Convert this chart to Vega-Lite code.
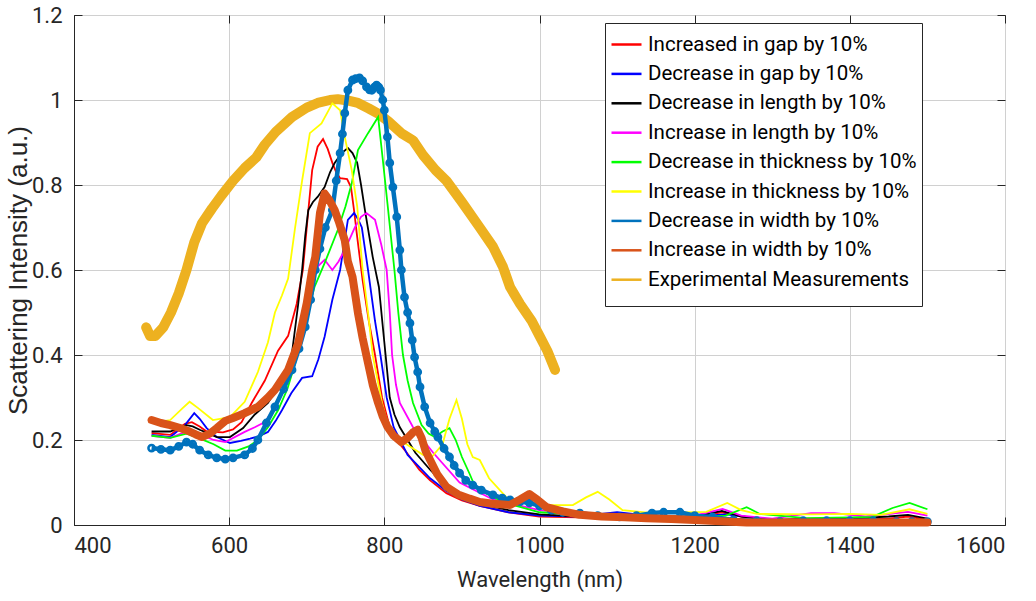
{
  "$schema": "https://vega.github.io/schema/vega-lite/v6.json",
  "width": 931,
  "height": 510,
  "autosize": "none",
  "padding": {"left": 74, "top": 15, "right": 31, "bottom": 76},
  "background": "white",
  "config": {
    "view": {"stroke": "#262626", "strokeWidth": 1},
    "font": "Roboto",
    "axis": {
      "gridColor": "#d0d0d0", "gridWidth": 1, "domainColor": "#262626", "tickColor": "#262626",
      "labelColor": "#262626", "titleColor": "#262626", "labelFont": "Roboto",
      "titleFont": "Roboto", "labelFontSize": 22, "titleFontSize": 22, "titleFontWeight": "normal"
    }
  },
  "data": {"values": [
    {"s":"Experimental Measurements","x":493,"y":0.465},{"s":"Experimental Measurements","x":498,"y":0.445},{"s":"Experimental Measurements","x":505,"y":0.445},{"s":"Experimental Measurements","x":515,"y":0.465},{"s":"Experimental Measurements","x":525,"y":0.5},{"s":"Experimental Measurements","x":535,"y":0.545},{"s":"Experimental Measurements","x":545,"y":0.6},{"s":"Experimental Measurements","x":555,"y":0.665},{"s":"Experimental Measurements","x":565,"y":0.71},{"s":"Experimental Measurements","x":578,"y":0.745},{"s":"Experimental Measurements","x":590,"y":0.775},{"s":"Experimental Measurements","x":605,"y":0.81},{"s":"Experimental Measurements","x":620,"y":0.84},{"s":"Experimental Measurements","x":635,"y":0.865},{"s":"Experimental Measurements","x":646,"y":0.895},{"s":"Experimental Measurements","x":660,"y":0.925},{"s":"Experimental Measurements","x":681,"y":0.96},{"s":"Experimental Measurements","x":700,"y":0.982},{"s":"Experimental Measurements","x":714,"y":0.993},{"s":"Experimental Measurements","x":730,"y":1.0},{"s":"Experimental Measurements","x":740,"y":1.002},{"s":"Experimental Measurements","x":755,"y":0.998},{"s":"Experimental Measurements","x":766,"y":0.993},{"s":"Experimental Measurements","x":780,"y":0.98},{"s":"Experimental Measurements","x":792,"y":0.968},{"s":"Experimental Measurements","x":805,"y":0.95},{"s":"Experimental Measurements","x":822,"y":0.922},{"s":"Experimental Measurements","x":837,"y":0.905},{"s":"Experimental Measurements","x":850,"y":0.87},{"s":"Experimental Measurements","x":866,"y":0.835},{"s":"Experimental Measurements","x":880,"y":0.81},{"s":"Experimental Measurements","x":900,"y":0.76},{"s":"Experimental Measurements","x":923,"y":0.7},{"s":"Experimental Measurements","x":940,"y":0.655},{"s":"Experimental Measurements","x":953,"y":0.607},{"s":"Experimental Measurements","x":962,"y":0.56},{"s":"Experimental Measurements","x":975,"y":0.52},{"s":"Experimental Measurements","x":990,"y":0.48},{"s":"Experimental Measurements","x":1000,"y":0.445},{"s":"Experimental Measurements","x":1010,"y":0.41},{"s":"Experimental Measurements","x":1020,"y":0.365},

    {"s":"Increased in gap by 10%","x":500,"y":0.216},{"s":"Increased in gap by 10%","x":524,"y":0.212},{"s":"Increased in gap by 10%","x":543,"y":0.238},{"s":"Increased in gap by 10%","x":552,"y":0.242},{"s":"Increased in gap by 10%","x":562,"y":0.232},{"s":"Increased in gap by 10%","x":571,"y":0.22},{"s":"Increased in gap by 10%","x":592,"y":0.218},{"s":"Increased in gap by 10%","x":605,"y":0.225},{"s":"Increased in gap by 10%","x":616,"y":0.242},{"s":"Increased in gap by 10%","x":629,"y":0.287},{"s":"Increased in gap by 10%","x":646,"y":0.34},{"s":"Increased in gap by 10%","x":663,"y":0.41},{"s":"Increased in gap by 10%","x":676,"y":0.445},{"s":"Increased in gap by 10%","x":687,"y":0.52},{"s":"Increased in gap by 10%","x":695,"y":0.6},{"s":"Increased in gap by 10%","x":701,"y":0.72},{"s":"Increased in gap by 10%","x":707,"y":0.835},{"s":"Increased in gap by 10%","x":714,"y":0.89},{"s":"Increased in gap by 10%","x":721,"y":0.908},{"s":"Increased in gap by 10%","x":727,"y":0.885},{"s":"Increased in gap by 10%","x":733,"y":0.852},{"s":"Increased in gap by 10%","x":738,"y":0.83},{"s":"Increased in gap by 10%","x":743,"y":0.816},{"s":"Increased in gap by 10%","x":752,"y":0.814},{"s":"Increased in gap by 10%","x":757,"y":0.795},{"s":"Increased in gap by 10%","x":761,"y":0.74},{"s":"Increased in gap by 10%","x":765,"y":0.678},{"s":"Increased in gap by 10%","x":772,"y":0.576},{"s":"Increased in gap by 10%","x":780,"y":0.48},{"s":"Increased in gap by 10%","x":788,"y":0.4},{"s":"Increased in gap by 10%","x":797,"y":0.3},{"s":"Increased in gap by 10%","x":807,"y":0.23},{"s":"Increased in gap by 10%","x":818,"y":0.195},{"s":"Increased in gap by 10%","x":829,"y":0.17},{"s":"Increased in gap by 10%","x":845,"y":0.13},{"s":"Increased in gap by 10%","x":859,"y":0.105},{"s":"Increased in gap by 10%","x":880,"y":0.075},{"s":"Increased in gap by 10%","x":900,"y":0.058},{"s":"Increased in gap by 10%","x":923,"y":0.045},{"s":"Increased in gap by 10%","x":960,"y":0.03},{"s":"Increased in gap by 10%","x":1000,"y":0.02},{"s":"Increased in gap by 10%","x":1050,"y":0.018},{"s":"Increased in gap by 10%","x":1100,"y":0.025},{"s":"Increased in gap by 10%","x":1150,"y":0.02},{"s":"Increased in gap by 10%","x":1200,"y":0.02},{"s":"Increased in gap by 10%","x":1235,"y":0.03},{"s":"Increased in gap by 10%","x":1260,"y":0.02},{"s":"Increased in gap by 10%","x":1300,"y":0.012},{"s":"Increased in gap by 10%","x":1350,"y":0.015},{"s":"Increased in gap by 10%","x":1400,"y":0.015},{"s":"Increased in gap by 10%","x":1450,"y":0.015},{"s":"Increased in gap by 10%","x":1475,"y":0.02},{"s":"Increased in gap by 10%","x":1500,"y":0.012},

    {"s":"Decrease in gap by 10%","x":500,"y":0.212},{"s":"Decrease in gap by 10%","x":524,"y":0.207},{"s":"Decrease in gap by 10%","x":543,"y":0.235},{"s":"Decrease in gap by 10%","x":555,"y":0.263},{"s":"Decrease in gap by 10%","x":562,"y":0.25},{"s":"Decrease in gap by 10%","x":571,"y":0.228},{"s":"Decrease in gap by 10%","x":584,"y":0.207},{"s":"Decrease in gap by 10%","x":601,"y":0.193},{"s":"Decrease in gap by 10%","x":615,"y":0.198},{"s":"Decrease in gap by 10%","x":627,"y":0.203},{"s":"Decrease in gap by 10%","x":640,"y":0.21},{"s":"Decrease in gap by 10%","x":650,"y":0.219},{"s":"Decrease in gap by 10%","x":660,"y":0.245},{"s":"Decrease in gap by 10%","x":668,"y":0.27},{"s":"Decrease in gap by 10%","x":680,"y":0.31},{"s":"Decrease in gap by 10%","x":694,"y":0.346},{"s":"Decrease in gap by 10%","x":707,"y":0.35},{"s":"Decrease in gap by 10%","x":715,"y":0.39},{"s":"Decrease in gap by 10%","x":723,"y":0.443},{"s":"Decrease in gap by 10%","x":733,"y":0.53},{"s":"Decrease in gap by 10%","x":743,"y":0.6},{"s":"Decrease in gap by 10%","x":753,"y":0.718},{"s":"Decrease in gap by 10%","x":761,"y":0.734},{"s":"Decrease in gap by 10%","x":766,"y":0.72},{"s":"Decrease in gap by 10%","x":771,"y":0.7},{"s":"Decrease in gap by 10%","x":779,"y":0.6},{"s":"Decrease in gap by 10%","x":788,"y":0.48},{"s":"Decrease in gap by 10%","x":795,"y":0.4},{"s":"Decrease in gap by 10%","x":803,"y":0.3},{"s":"Decrease in gap by 10%","x":812,"y":0.23},{"s":"Decrease in gap by 10%","x":830,"y":0.165},{"s":"Decrease in gap by 10%","x":859,"y":0.11},{"s":"Decrease in gap by 10%","x":880,"y":0.08},{"s":"Decrease in gap by 10%","x":900,"y":0.06},{"s":"Decrease in gap by 10%","x":923,"y":0.045},{"s":"Decrease in gap by 10%","x":960,"y":0.03},{"s":"Decrease in gap by 10%","x":1000,"y":0.022},{"s":"Decrease in gap by 10%","x":1050,"y":0.02},{"s":"Decrease in gap by 10%","x":1100,"y":0.03},{"s":"Decrease in gap by 10%","x":1150,"y":0.02},{"s":"Decrease in gap by 10%","x":1200,"y":0.02},{"s":"Decrease in gap by 10%","x":1240,"y":0.025},{"s":"Decrease in gap by 10%","x":1300,"y":0.012},{"s":"Decrease in gap by 10%","x":1400,"y":0.012},{"s":"Decrease in gap by 10%","x":1450,"y":0.012},{"s":"Decrease in gap by 10%","x":1500,"y":0.01},

    {"s":"Decrease in length by 10%","x":500,"y":0.22},{"s":"Decrease in length by 10%","x":524,"y":0.22},{"s":"Decrease in length by 10%","x":545,"y":0.235},{"s":"Decrease in length by 10%","x":553,"y":0.232},{"s":"Decrease in length by 10%","x":562,"y":0.224},{"s":"Decrease in length by 10%","x":584,"y":0.207},{"s":"Decrease in length by 10%","x":601,"y":0.207},{"s":"Decrease in length by 10%","x":618,"y":0.228},{"s":"Decrease in length by 10%","x":633,"y":0.26},{"s":"Decrease in length by 10%","x":650,"y":0.287},{"s":"Decrease in length by 10%","x":668,"y":0.34},{"s":"Decrease in length by 10%","x":681,"y":0.405},{"s":"Decrease in length by 10%","x":689,"y":0.52},{"s":"Decrease in length by 10%","x":694,"y":0.6},{"s":"Decrease in length by 10%","x":698,"y":0.68},{"s":"Decrease in length by 10%","x":702,"y":0.741},{"s":"Decrease in length by 10%","x":708,"y":0.76},{"s":"Decrease in length by 10%","x":714,"y":0.772},{"s":"Decrease in length by 10%","x":723,"y":0.795},{"s":"Decrease in length by 10%","x":730,"y":0.83},{"s":"Decrease in length by 10%","x":736,"y":0.852},{"s":"Decrease in length by 10%","x":745,"y":0.875},{"s":"Decrease in length by 10%","x":753,"y":0.887},{"s":"Decrease in length by 10%","x":759,"y":0.875},{"s":"Decrease in length by 10%","x":765,"y":0.852},{"s":"Decrease in length by 10%","x":770,"y":0.8},{"s":"Decrease in length by 10%","x":775,"y":0.741},{"s":"Decrease in length by 10%","x":785,"y":0.631},{"s":"Decrease in length by 10%","x":793,"y":0.56},{"s":"Decrease in length by 10%","x":800,"y":0.43},{"s":"Decrease in length by 10%","x":807,"y":0.3},{"s":"Decrease in length by 10%","x":813,"y":0.26},{"s":"Decrease in length by 10%","x":820,"y":0.23},{"s":"Decrease in length by 10%","x":840,"y":0.17},{"s":"Decrease in length by 10%","x":859,"y":0.13},{"s":"Decrease in length by 10%","x":880,"y":0.09},{"s":"Decrease in length by 10%","x":900,"y":0.065},{"s":"Decrease in length by 10%","x":923,"y":0.05},{"s":"Decrease in length by 10%","x":960,"y":0.035},{"s":"Decrease in length by 10%","x":1000,"y":0.025},{"s":"Decrease in length by 10%","x":1050,"y":0.02},{"s":"Decrease in length by 10%","x":1100,"y":0.02},{"s":"Decrease in length by 10%","x":1150,"y":0.02},{"s":"Decrease in length by 10%","x":1200,"y":0.02},{"s":"Decrease in length by 10%","x":1235,"y":0.033},{"s":"Decrease in length by 10%","x":1260,"y":0.02},{"s":"Decrease in length by 10%","x":1300,"y":0.012},{"s":"Decrease in length by 10%","x":1400,"y":0.015},{"s":"Decrease in length by 10%","x":1450,"y":0.02},{"s":"Decrease in length by 10%","x":1475,"y":0.024},{"s":"Decrease in length by 10%","x":1500,"y":0.015},

    {"s":"Increase in length by 10%","x":500,"y":0.21},{"s":"Increase in length by 10%","x":524,"y":0.205},{"s":"Increase in length by 10%","x":545,"y":0.22},{"s":"Increase in length by 10%","x":560,"y":0.215},{"s":"Increase in length by 10%","x":580,"y":0.2},{"s":"Increase in length by 10%","x":595,"y":0.195},{"s":"Increase in length by 10%","x":620,"y":0.219},{"s":"Increase in length by 10%","x":633,"y":0.23},{"s":"Increase in length by 10%","x":646,"y":0.242},{"s":"Increase in length by 10%","x":660,"y":0.28},{"s":"Increase in length by 10%","x":680,"y":0.36},{"s":"Increase in length by 10%","x":695,"y":0.48},{"s":"Increase in length by 10%","x":705,"y":0.56},{"s":"Increase in length by 10%","x":715,"y":0.61},{"s":"Increase in length by 10%","x":723,"y":0.624},{"s":"Increase in length by 10%","x":733,"y":0.6},{"s":"Increase in length by 10%","x":741,"y":0.62},{"s":"Increase in length by 10%","x":749,"y":0.647},{"s":"Increase in length by 10%","x":762,"y":0.7},{"s":"Increase in length by 10%","x":770,"y":0.725},{"s":"Increase in length by 10%","x":777,"y":0.734},{"s":"Increase in length by 10%","x":788,"y":0.718},{"s":"Increase in length by 10%","x":796,"y":0.66},{"s":"Increase in length by 10%","x":803,"y":0.6},{"s":"Increase in length by 10%","x":807,"y":0.5},{"s":"Increase in length by 10%","x":810,"y":0.4},{"s":"Increase in length by 10%","x":815,"y":0.33},{"s":"Increase in length by 10%","x":820,"y":0.287},{"s":"Increase in length by 10%","x":837,"y":0.23},{"s":"Increase in length by 10%","x":863,"y":0.17},{"s":"Increase in length by 10%","x":897,"y":0.1},{"s":"Increase in length by 10%","x":940,"y":0.06},{"s":"Increase in length by 10%","x":1000,"y":0.035},{"s":"Increase in length by 10%","x":1050,"y":0.025},{"s":"Increase in length by 10%","x":1100,"y":0.025},{"s":"Increase in length by 10%","x":1150,"y":0.02},{"s":"Increase in length by 10%","x":1200,"y":0.022},{"s":"Increase in length by 10%","x":1236,"y":0.038},{"s":"Increase in length by 10%","x":1260,"y":0.022},{"s":"Increase in length by 10%","x":1300,"y":0.015},{"s":"Increase in length by 10%","x":1350,"y":0.028},{"s":"Increase in length by 10%","x":1380,"y":0.028},{"s":"Increase in length by 10%","x":1420,"y":0.02},{"s":"Increase in length by 10%","x":1475,"y":0.031},{"s":"Increase in length by 10%","x":1500,"y":0.022},

    {"s":"Decrease in thickness by 10%","x":500,"y":0.21},{"s":"Decrease in thickness by 10%","x":524,"y":0.205},{"s":"Decrease in thickness by 10%","x":545,"y":0.215},{"s":"Decrease in thickness by 10%","x":560,"y":0.205},{"s":"Decrease in thickness by 10%","x":580,"y":0.19},{"s":"Decrease in thickness by 10%","x":595,"y":0.175},{"s":"Decrease in thickness by 10%","x":610,"y":0.175},{"s":"Decrease in thickness by 10%","x":625,"y":0.185},{"s":"Decrease in thickness by 10%","x":637,"y":0.2},{"s":"Decrease in thickness by 10%","x":650,"y":0.23},{"s":"Decrease in thickness by 10%","x":663,"y":0.27},{"s":"Decrease in thickness by 10%","x":675,"y":0.32},{"s":"Decrease in thickness by 10%","x":685,"y":0.38},{"s":"Decrease in thickness by 10%","x":698,"y":0.482},{"s":"Decrease in thickness by 10%","x":710,"y":0.56},{"s":"Decrease in thickness by 10%","x":723,"y":0.616},{"s":"Decrease in thickness by 10%","x":740,"y":0.694},{"s":"Decrease in thickness by 10%","x":750,"y":0.75},{"s":"Decrease in thickness by 10%","x":758,"y":0.804},{"s":"Decrease in thickness by 10%","x":766,"y":0.882},{"s":"Decrease in thickness by 10%","x":779,"y":0.922},{"s":"Decrease in thickness by 10%","x":792,"y":0.96},{"s":"Decrease in thickness by 10%","x":798,"y":0.86},{"s":"Decrease in thickness by 10%","x":804,"y":0.757},{"s":"Decrease in thickness by 10%","x":813,"y":0.6},{"s":"Decrease in thickness by 10%","x":818,"y":0.5},{"s":"Decrease in thickness by 10%","x":824,"y":0.4},{"s":"Decrease in thickness by 10%","x":830,"y":0.34},{"s":"Decrease in thickness by 10%","x":837,"y":0.287},{"s":"Decrease in thickness by 10%","x":848,"y":0.235},{"s":"Decrease in thickness by 10%","x":857,"y":0.215},{"s":"Decrease in thickness by 10%","x":865,"y":0.207},{"s":"Decrease in thickness by 10%","x":875,"y":0.22},{"s":"Decrease in thickness by 10%","x":884,"y":0.228},{"s":"Decrease in thickness by 10%","x":892,"y":0.2},{"s":"Decrease in thickness by 10%","x":900,"y":0.16},{"s":"Decrease in thickness by 10%","x":910,"y":0.12},{"s":"Decrease in thickness by 10%","x":917,"y":0.09},{"s":"Decrease in thickness by 10%","x":940,"y":0.065},{"s":"Decrease in thickness by 10%","x":970,"y":0.045},{"s":"Decrease in thickness by 10%","x":1000,"y":0.03},{"s":"Decrease in thickness by 10%","x":1050,"y":0.025},{"s":"Decrease in thickness by 10%","x":1100,"y":0.025},{"s":"Decrease in thickness by 10%","x":1150,"y":0.02},{"s":"Decrease in thickness by 10%","x":1200,"y":0.02},{"s":"Decrease in thickness by 10%","x":1240,"y":0.022},{"s":"Decrease in thickness by 10%","x":1267,"y":0.042},{"s":"Decrease in thickness by 10%","x":1284,"y":0.026},{"s":"Decrease in thickness by 10%","x":1344,"y":0.016},{"s":"Decrease in thickness by 10%","x":1400,"y":0.018},{"s":"Decrease in thickness by 10%","x":1429,"y":0.019},{"s":"Decrease in thickness by 10%","x":1455,"y":0.04},{"s":"Decrease in thickness by 10%","x":1477,"y":0.052},{"s":"Decrease in thickness by 10%","x":1500,"y":0.037},

    {"s":"Increase in thickness by 10%","x":500,"y":0.24},{"s":"Increase in thickness by 10%","x":524,"y":0.247},{"s":"Increase in thickness by 10%","x":540,"y":0.275},{"s":"Increase in thickness by 10%","x":549,"y":0.29},{"s":"Increase in thickness by 10%","x":560,"y":0.275},{"s":"Increase in thickness by 10%","x":579,"y":0.247},{"s":"Increase in thickness by 10%","x":601,"y":0.254},{"s":"Increase in thickness by 10%","x":620,"y":0.29},{"s":"Increase in thickness by 10%","x":637,"y":0.36},{"s":"Increase in thickness by 10%","x":650,"y":0.43},{"s":"Increase in thickness by 10%","x":659,"y":0.5},{"s":"Increase in thickness by 10%","x":668,"y":0.54},{"s":"Increase in thickness by 10%","x":676,"y":0.58},{"s":"Increase in thickness by 10%","x":685,"y":0.7},{"s":"Increase in thickness by 10%","x":694,"y":0.81},{"s":"Increase in thickness by 10%","x":704,"y":0.922},{"s":"Increase in thickness by 10%","x":719,"y":0.945},{"s":"Increase in thickness by 10%","x":733,"y":0.992},{"s":"Increase in thickness by 10%","x":743,"y":0.976},{"s":"Increase in thickness by 10%","x":749,"y":0.913},{"s":"Increase in thickness by 10%","x":758,"y":0.835},{"s":"Increase in thickness by 10%","x":765,"y":0.75},{"s":"Increase in thickness by 10%","x":772,"y":0.6},{"s":"Increase in thickness by 10%","x":779,"y":0.5},{"s":"Increase in thickness by 10%","x":785,"y":0.4},{"s":"Increase in thickness by 10%","x":797,"y":0.287},{"s":"Increase in thickness by 10%","x":807,"y":0.22},{"s":"Increase in thickness by 10%","x":820,"y":0.2},{"s":"Increase in thickness by 10%","x":837,"y":0.18},{"s":"Increase in thickness by 10%","x":850,"y":0.165},{"s":"Increase in thickness by 10%","x":861,"y":0.16},{"s":"Increase in thickness by 10%","x":875,"y":0.19},{"s":"Increase in thickness by 10%","x":884,"y":0.25},{"s":"Increase in thickness by 10%","x":893,"y":0.294},{"s":"Increase in thickness by 10%","x":900,"y":0.25},{"s":"Increase in thickness by 10%","x":907,"y":0.19},{"s":"Increase in thickness by 10%","x":914,"y":0.16},{"s":"Increase in thickness by 10%","x":923,"y":0.153},{"s":"Increase in thickness by 10%","x":935,"y":0.11},{"s":"Increase in thickness by 10%","x":958,"y":0.064},{"s":"Increase in thickness by 10%","x":975,"y":0.059},{"s":"Increase in thickness by 10%","x":1000,"y":0.047},{"s":"Increase in thickness by 10%","x":1043,"y":0.047},{"s":"Increase in thickness by 10%","x":1060,"y":0.065},{"s":"Increase in thickness by 10%","x":1075,"y":0.078},{"s":"Increase in thickness by 10%","x":1090,"y":0.06},{"s":"Increase in thickness by 10%","x":1107,"y":0.035},{"s":"Increase in thickness by 10%","x":1146,"y":0.028},{"s":"Increase in thickness by 10%","x":1215,"y":0.031},{"s":"Increase in thickness by 10%","x":1242,"y":0.052},{"s":"Increase in thickness by 10%","x":1260,"y":0.035},{"s":"Increase in thickness by 10%","x":1280,"y":0.026},{"s":"Increase in thickness by 10%","x":1350,"y":0.025},{"s":"Increase in thickness by 10%","x":1400,"y":0.026},{"s":"Increase in thickness by 10%","x":1440,"y":0.024},{"s":"Increase in thickness by 10%","x":1477,"y":0.037},{"s":"Increase in thickness by 10%","x":1500,"y":0.026},

    {"s":"Decrease in width by 10%","x":500,"y":0.181},{"s":"Decrease in width by 10%","x":512,"y":0.178},{"s":"Decrease in width by 10%","x":524,"y":0.176},{"s":"Decrease in width by 10%","x":535,"y":0.185},{"s":"Decrease in width by 10%","x":545,"y":0.195},{"s":"Decrease in width by 10%","x":553,"y":0.19},{"s":"Decrease in width by 10%","x":562,"y":0.176},{"s":"Decrease in width by 10%","x":573,"y":0.165},{"s":"Decrease in width by 10%","x":584,"y":0.158},{"s":"Decrease in width by 10%","x":595,"y":0.155},{"s":"Decrease in width by 10%","x":605,"y":0.158},{"s":"Decrease in width by 10%","x":620,"y":0.165},{"s":"Decrease in width by 10%","x":630,"y":0.18},{"s":"Decrease in width by 10%","x":637,"y":0.2},{"s":"Decrease in width by 10%","x":648,"y":0.24},{"s":"Decrease in width by 10%","x":659,"y":0.278},{"s":"Decrease in width by 10%","x":670,"y":0.32},{"s":"Decrease in width by 10%","x":681,"y":0.365},{"s":"Decrease in width by 10%","x":690,"y":0.415},{"s":"Decrease in width by 10%","x":698,"y":0.466},{"s":"Decrease in width by 10%","x":705,"y":0.53},{"s":"Decrease in width by 10%","x":711,"y":0.6},{"s":"Decrease in width by 10%","x":717,"y":0.65},{"s":"Decrease in width by 10%","x":724,"y":0.7},{"s":"Decrease in width by 10%","x":733,"y":0.741},{"s":"Decrease in width by 10%","x":738,"y":0.81},{"s":"Decrease in width by 10%","x":743,"y":0.875},{"s":"Decrease in width by 10%","x":746,"y":0.92},{"s":"Decrease in width by 10%","x":749,"y":0.969},{"s":"Decrease in width by 10%","x":753,"y":1.023},{"s":"Decrease in width by 10%","x":759,"y":1.047},{"s":"Decrease in width by 10%","x":763,"y":1.05},{"s":"Decrease in width by 10%","x":768,"y":1.052},{"s":"Decrease in width by 10%","x":772,"y":1.045},{"s":"Decrease in width by 10%","x":777,"y":1.031},{"s":"Decrease in width by 10%","x":781,"y":1.024},{"s":"Decrease in width by 10%","x":784,"y":1.023},{"s":"Decrease in width by 10%","x":787,"y":1.03},{"s":"Decrease in width by 10%","x":790,"y":1.035},{"s":"Decrease in width by 10%","x":793,"y":1.03},{"s":"Decrease in width by 10%","x":795,"y":1.023},{"s":"Decrease in width by 10%","x":798,"y":1.0},{"s":"Decrease in width by 10%","x":800,"y":0.976},{"s":"Decrease in width by 10%","x":804,"y":0.913},{"s":"Decrease in width by 10%","x":807,"y":0.852},{"s":"Decrease in width by 10%","x":811,"y":0.795},{"s":"Decrease in width by 10%","x":816,"y":0.725},{"s":"Decrease in width by 10%","x":820,"y":0.647},{"s":"Decrease in width by 10%","x":822,"y":0.6},{"s":"Decrease in width by 10%","x":826,"y":0.536},{"s":"Decrease in width by 10%","x":830,"y":0.5},{"s":"Decrease in width by 10%","x":833,"y":0.475},{"s":"Decrease in width by 10%","x":836,"y":0.435},{"s":"Decrease in width by 10%","x":839,"y":0.395},{"s":"Decrease in width by 10%","x":843,"y":0.36},{"s":"Decrease in width by 10%","x":846,"y":0.325},{"s":"Decrease in width by 10%","x":852,"y":0.278},{"s":"Decrease in width by 10%","x":859,"y":0.24},{"s":"Decrease in width by 10%","x":865,"y":0.22},{"s":"Decrease in width by 10%","x":869,"y":0.207},{"s":"Decrease in width by 10%","x":877,"y":0.18},{"s":"Decrease in width by 10%","x":884,"y":0.16},{"s":"Decrease in width by 10%","x":890,"y":0.14},{"s":"Decrease in width by 10%","x":897,"y":0.122},{"s":"Decrease in width by 10%","x":905,"y":0.105},{"s":"Decrease in width by 10%","x":914,"y":0.094},{"s":"Decrease in width by 10%","x":925,"y":0.082},{"s":"Decrease in width by 10%","x":940,"y":0.071},{"s":"Decrease in width by 10%","x":952,"y":0.063},{"s":"Decrease in width by 10%","x":962,"y":0.059},{"s":"Decrease in width by 10%","x":975,"y":0.055},{"s":"Decrease in width by 10%","x":987,"y":0.052},{"s":"Decrease in width by 10%","x":1000,"y":0.045},{"s":"Decrease in width by 10%","x":1015,"y":0.035},{"s":"Decrease in width by 10%","x":1030,"y":0.03},{"s":"Decrease in width by 10%","x":1052,"y":0.028},{"s":"Decrease in width by 10%","x":1075,"y":0.022},{"s":"Decrease in width by 10%","x":1103,"y":0.019},{"s":"Decrease in width by 10%","x":1125,"y":0.022},{"s":"Decrease in width by 10%","x":1145,"y":0.028},{"s":"Decrease in width by 10%","x":1160,"y":0.03},{"s":"Decrease in width by 10%","x":1181,"y":0.03},{"s":"Decrease in width by 10%","x":1200,"y":0.022},{"s":"Decrease in width by 10%","x":1223,"y":0.019},{"s":"Decrease in width by 10%","x":1250,"y":0.012},{"s":"Decrease in width by 10%","x":1280,"y":0.01},{"s":"Decrease in width by 10%","x":1310,"y":0.008},{"s":"Decrease in width by 10%","x":1340,"y":0.01},{"s":"Decrease in width by 10%","x":1370,"y":0.01},{"s":"Decrease in width by 10%","x":1400,"y":0.01},{"s":"Decrease in width by 10%","x":1430,"y":0.01},{"s":"Decrease in width by 10%","x":1460,"y":0.008},{"s":"Decrease in width by 10%","x":1480,"y":0.008},{"s":"Decrease in width by 10%","x":1500,"y":0.008},

    {"s":"Increase in width by 10%","x":500,"y":0.247},{"s":"Increase in width by 10%","x":512,"y":0.24},{"s":"Increase in width by 10%","x":524,"y":0.235},{"s":"Increase in width by 10%","x":537,"y":0.228},{"s":"Increase in width by 10%","x":549,"y":0.22},{"s":"Increase in width by 10%","x":557,"y":0.213},{"s":"Increase in width by 10%","x":565,"y":0.207},{"s":"Increase in width by 10%","x":575,"y":0.215},{"s":"Increase in width by 10%","x":584,"y":0.228},{"s":"Increase in width by 10%","x":595,"y":0.245},{"s":"Increase in width by 10%","x":605,"y":0.252},{"s":"Increase in width by 10%","x":620,"y":0.263},{"s":"Increase in width by 10%","x":637,"y":0.278},{"s":"Increase in width by 10%","x":650,"y":0.3},{"s":"Increase in width by 10%","x":659,"y":0.318},{"s":"Increase in width by 10%","x":676,"y":0.365},{"s":"Increase in width by 10%","x":689,"y":0.428},{"s":"Increase in width by 10%","x":700,"y":0.522},{"s":"Increase in width by 10%","x":707,"y":0.6},{"s":"Increase in width by 10%","x":711,"y":0.631},{"s":"Increase in width by 10%","x":717,"y":0.734},{"s":"Increase in width by 10%","x":723,"y":0.78},{"s":"Increase in width by 10%","x":729,"y":0.765},{"s":"Increase in width by 10%","x":736,"y":0.741},{"s":"Increase in width by 10%","x":742,"y":0.71},{"s":"Increase in width by 10%","x":749,"y":0.67},{"s":"Increase in width by 10%","x":753,"y":0.62},{"s":"Increase in width by 10%","x":759,"y":0.584},{"s":"Increase in width by 10%","x":766,"y":0.499},{"s":"Increase in width by 10%","x":772,"y":0.44},{"s":"Increase in width by 10%","x":779,"y":0.381},{"s":"Increase in width by 10%","x":785,"y":0.33},{"s":"Increase in width by 10%","x":792,"y":0.287},{"s":"Increase in width by 10%","x":798,"y":0.255},{"s":"Increase in width by 10%","x":804,"y":0.231},{"s":"Increase in width by 10%","x":812,"y":0.21},{"s":"Increase in width by 10%","x":822,"y":0.195},{"s":"Increase in width by 10%","x":830,"y":0.205},{"s":"Increase in width by 10%","x":837,"y":0.218},{"s":"Increase in width by 10%","x":843,"y":0.224},{"s":"Increase in width by 10%","x":848,"y":0.205},{"s":"Increase in width by 10%","x":853,"y":0.175},{"s":"Increase in width by 10%","x":859,"y":0.153},{"s":"Increase in width by 10%","x":868,"y":0.12},{"s":"Increase in width by 10%","x":880,"y":0.09},{"s":"Increase in width by 10%","x":895,"y":0.072},{"s":"Increase in width by 10%","x":910,"y":0.062},{"s":"Increase in width by 10%","x":923,"y":0.054},{"s":"Increase in width by 10%","x":940,"y":0.05},{"s":"Increase in width by 10%","x":962,"y":0.047},{"s":"Increase in width by 10%","x":975,"y":0.06},{"s":"Increase in width by 10%","x":987,"y":0.073},{"s":"Increase in width by 10%","x":997,"y":0.06},{"s":"Increase in width by 10%","x":1009,"y":0.042},{"s":"Increase in width by 10%","x":1030,"y":0.032},{"s":"Increase in width by 10%","x":1052,"y":0.024},{"s":"Increase in width by 10%","x":1080,"y":0.02},{"s":"Increase in width by 10%","x":1110,"y":0.018},{"s":"Increase in width by 10%","x":1138,"y":0.016},{"s":"Increase in width by 10%","x":1170,"y":0.014},{"s":"Increase in width by 10%","x":1200,"y":0.012},{"s":"Increase in width by 10%","x":1267,"y":0.006},{"s":"Increase in width by 10%","x":1300,"y":0.006},{"s":"Increase in width by 10%","x":1350,"y":0.006},{"s":"Increase in width by 10%","x":1400,"y":0.006},{"s":"Increase in width by 10%","x":1450,"y":0.006},{"s":"Increase in width by 10%","x":1500,"y":0.006}
  ]},
  "encoding": {
    "x": {"field": "x", "type": "quantitative", "scale": {"domain": [400, 1600], "nice": false, "zero": false}},
    "y": {"field": "y", "type": "quantitative", "scale": {"domain": [0, 1.2], "nice": false}},
    "color": {
      "field": "s", "type": "nominal",
      "scale": {
        "domain": ["Increased in gap by 10%", "Decrease in gap by 10%", "Decrease in length by 10%", "Increase in length by 10%", "Decrease in thickness by 10%", "Increase in thickness by 10%", "Decrease in width by 10%", "Increase in width by 10%", "Experimental Measurements"],
        "range": ["#FF0000", "#0000FF", "#000000", "#FF00FF", "#00FF00", "#FFFF00", "#0072BD", "#D95319", "#EDB120"]
      },
      "legend": {
        "title": " ", "titleOrient": "bottom", "titleFontSize": 9, "titlePadding": 2,
        "orient": "none", "legendX": 531, "legendY": 8,
        "symbolType": "stroke", "symbolSize": 900, "symbolStrokeWidth": 2.5,
        "labelFont": "Roboto", "labelFontSize": 20.5, "labelColor": "#000000",
        "labelOffset": 5, "rowPadding": 2.4, "padding": 5, "labelLimit": 400,
        "strokeColor": "#262626", "fillColor": "white"
      }
    }
  },
  "layer": [
    {
      "transform": [{"filter": "datum.s == 'Experimental Measurements'"}],
      "mark": {"type": "line", "strokeWidth": 10, "strokeCap": "round", "strokeJoin": "round"},
      "encoding": {
        "x": {"field": "x", "type": "quantitative", "axis": {"orient": "bottom", "values": [400, 600, 800, 1000, 1200, 1400, 1600], "format": "d", "grid": true, "tickSize": -8, "labelPadding": 18, "title": "Wavelength (nm)", "titlePadding": 13}},
        "y": {"field": "y", "type": "quantitative", "axis": {"orient": "left", "values": [0, 0.2, 0.4, 0.6, 0.8, 1, 1.2], "format": "~g", "grid": true, "tickSize": -8, "labelPadding": 20, "title": "Scattering Intensity (a.u.)", "titleFont": "Liberation Sans", "titleFontSize": 26, "titlePadding": 0}}
      }
    },
    {
      "transform": [{"filter": "indexof(['Increased in gap by 10%','Decrease in gap by 10%','Decrease in length by 10%','Increase in length by 10%','Decrease in thickness by 10%','Increase in thickness by 10%'], datum.s) >= 0"}],
      "mark": {"type": "line", "strokeWidth": 1.8},
      "encoding": {
        "x": {"field": "x", "type": "quantitative", "axis": {"orient": "top", "values": [400, 600, 800, 1000, 1200, 1400, 1600], "labels": false, "grid": false, "domain": false, "tickSize": -8, "title": null}},
        "y": {"field": "y", "type": "quantitative", "axis": {"orient": "right", "values": [0, 0.2, 0.4, 0.6, 0.8, 1, 1.2], "labels": false, "grid": false, "domain": false, "tickSize": -8, "title": null}}
      }
    },
    {
      "transform": [{"filter": "datum.s == 'Decrease in width by 10%'"}],
      "mark": {"type": "line", "strokeWidth": 4.5, "strokeJoin": "round"},
      "encoding": {
        "x": {"field": "x", "type": "quantitative", "axis": null},
        "y": {"field": "y", "type": "quantitative", "axis": null}
      }
    },
    {
      "transform": [{"filter": "datum.s == 'Decrease in width by 10%'"}],
      "mark": {"type": "point", "shape": "circle", "filled": false, "size": 40, "strokeWidth": 2.5, "opacity": 1},
      "encoding": {
        "x": {"field": "x", "type": "quantitative", "axis": null},
        "y": {"field": "y", "type": "quantitative", "axis": null}
      }
    },
    {
      "transform": [{"filter": "datum.s == 'Increase in width by 10%'"}],
      "mark": {"type": "line", "strokeWidth": 8, "strokeJoin": "round", "strokeCap": "round"},
      "encoding": {
        "x": {"field": "x", "type": "quantitative", "axis": null},
        "y": {"field": "y", "type": "quantitative", "axis": null}
      }
    }
  ]
}
